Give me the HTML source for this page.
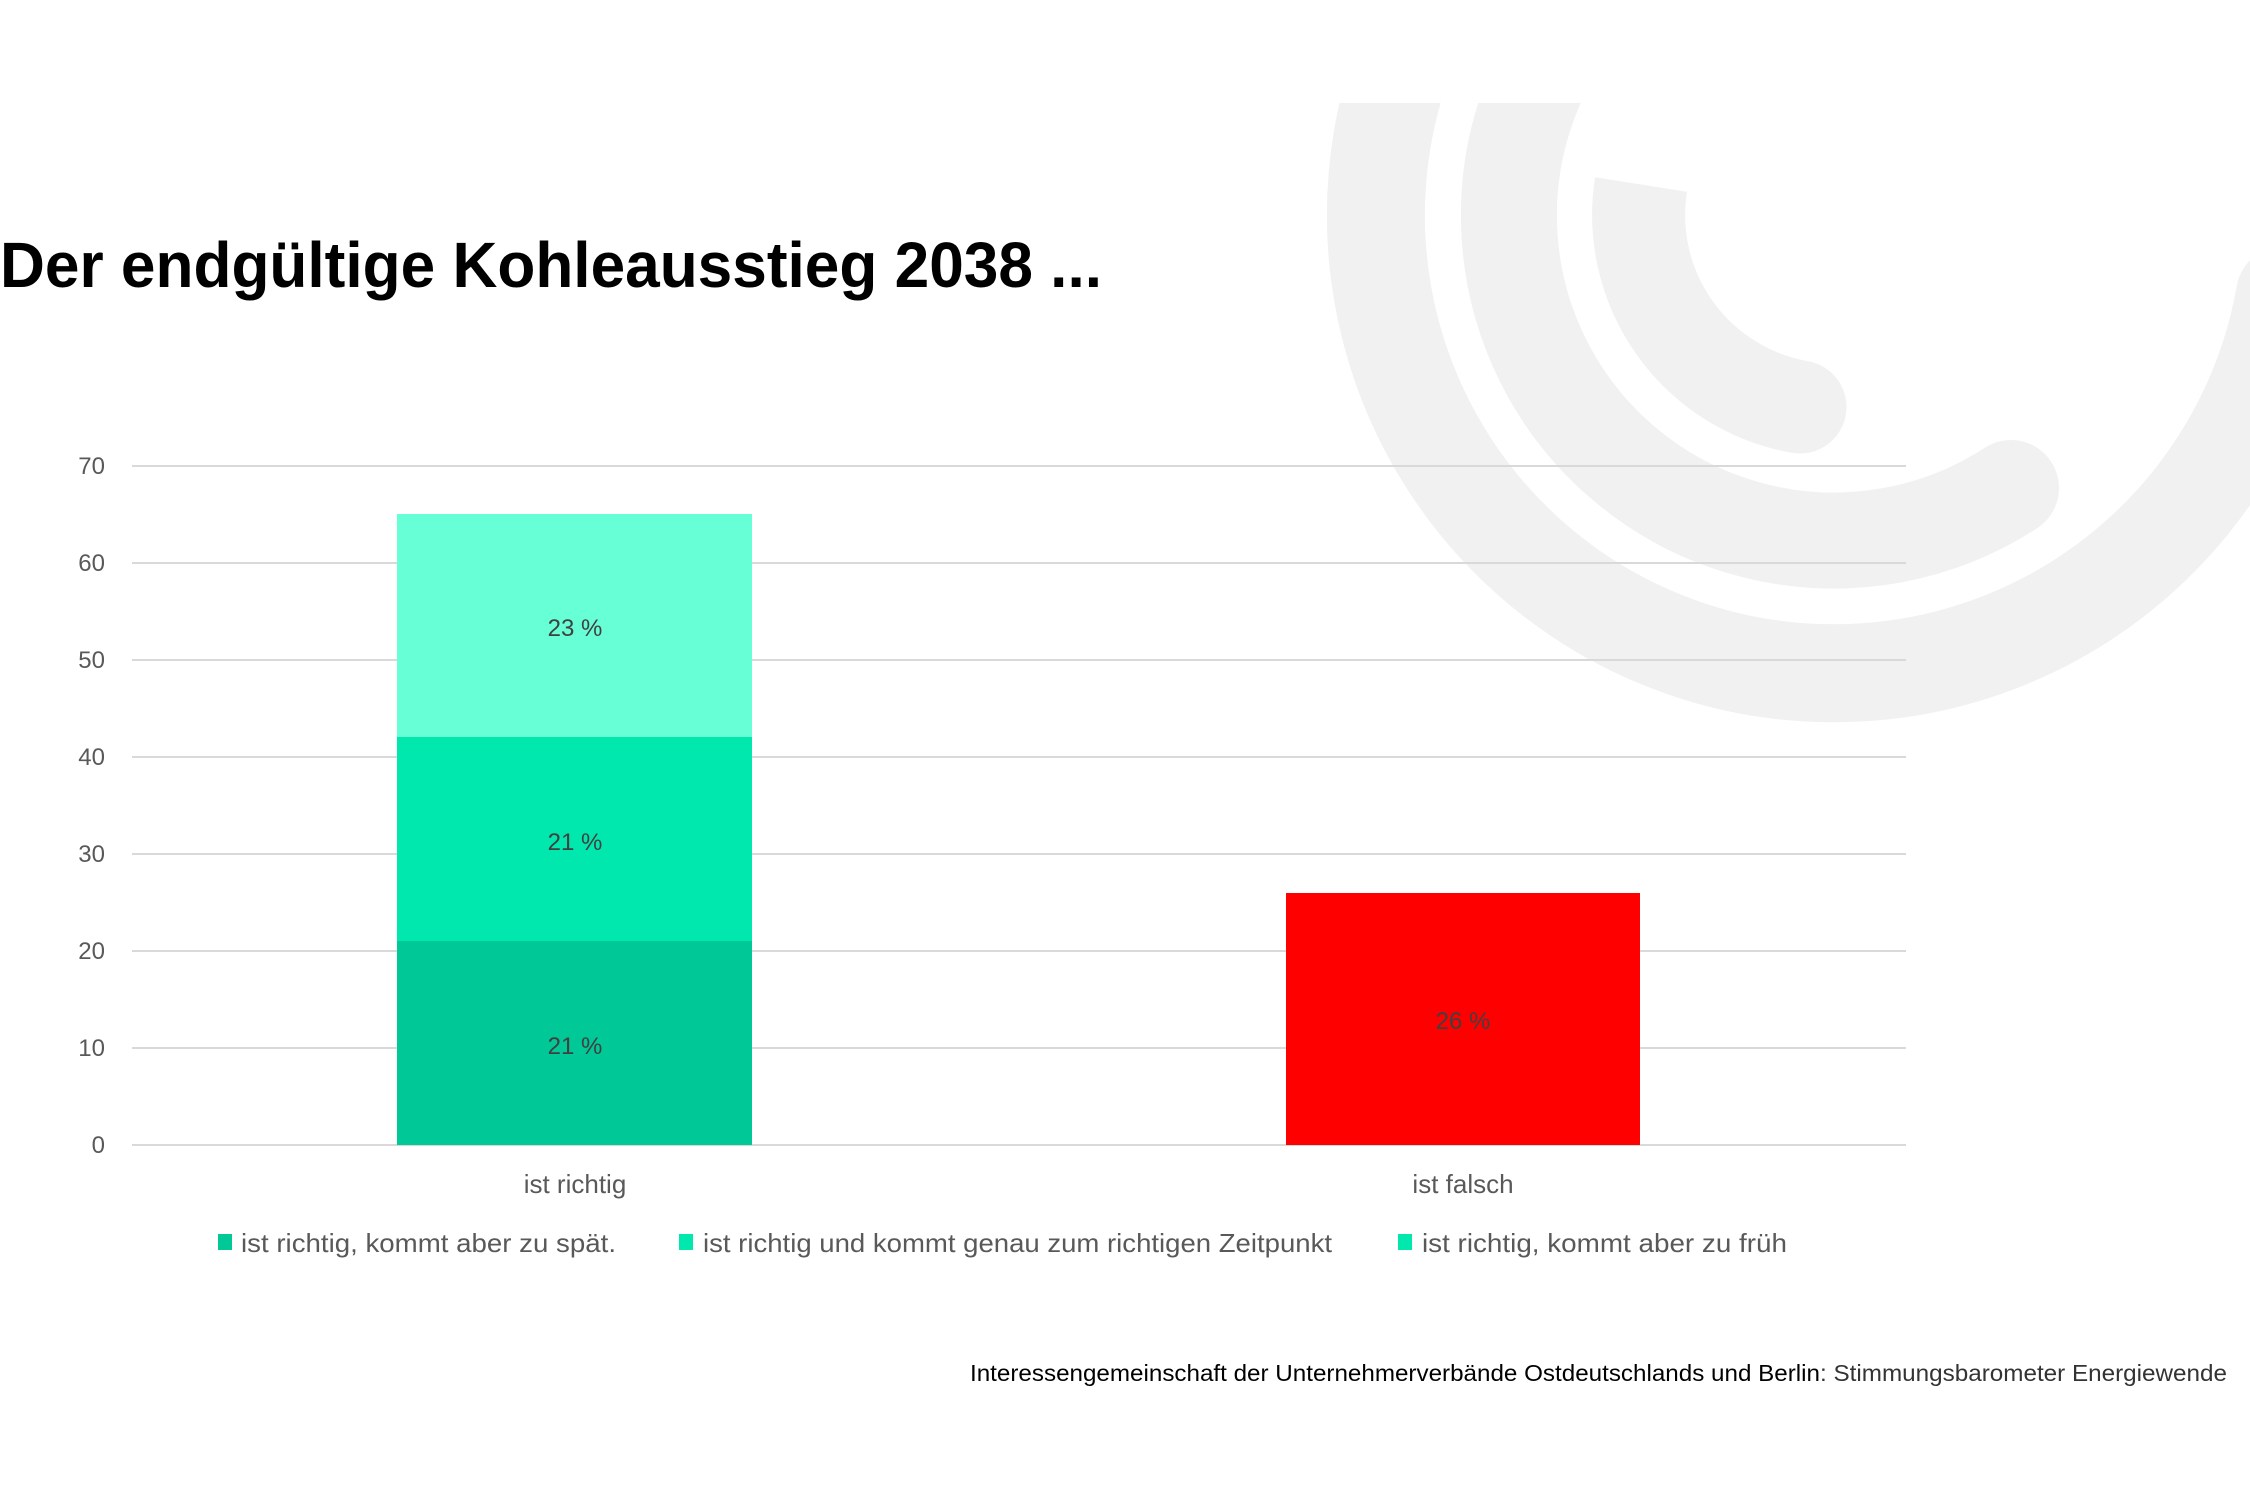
<!DOCTYPE html>
<html><head><meta charset="utf-8"><style>
html,body{margin:0;padding:0;background:#fff;}
svg{display:block;}
text{font-family:"Liberation Sans",sans-serif;}
</style></head><body>
<svg width="2250" height="1500" viewBox="0 0 2250 1500" xmlns="http://www.w3.org/2000/svg">
<defs><clipPath id="c"><rect x="0" y="103" width="2250" height="1400"/></clipPath></defs>
<g clip-path="url(#c)" fill="none" stroke="#f1f1f1">
<path d="M1677,-215 A458,458 0 1 0 2285,294.5" stroke-width="98" stroke-linecap="round"/>
<path d="M1723,-90 A325,325 0 1 0 2011,488" stroke-width="96" stroke-linecap="round"/>
<path d="M1641,184.5 A195,195 0 0 0 1800,407" stroke-width="93"/>
<circle cx="1800" cy="407" r="46.5" fill="#f1f1f1" stroke="none"/>
</g>
<text x="0" y="287" font-size="64" font-weight="bold" fill="#000" textLength="1102" lengthAdjust="spacingAndGlyphs">Der endgültige Kohleausstieg 2038 ...</text>
<g stroke="#d9d9d9" stroke-width="2">
<line x1="132" y1="466" x2="1906" y2="466"/>
<line x1="132" y1="563" x2="1906" y2="563"/>
<line x1="132" y1="660" x2="1906" y2="660"/>
<line x1="132" y1="757" x2="1906" y2="757"/>
<line x1="132" y1="854" x2="1906" y2="854"/>
<line x1="132" y1="951" x2="1906" y2="951"/>
<line x1="132" y1="1048" x2="1906" y2="1048"/>
<line x1="132" y1="1145" x2="1906" y2="1145"/>
</g>
<g font-size="24" fill="#595959" text-anchor="end">
<text x="105" y="474">70</text><text x="105" y="571">60</text><text x="105" y="668">50</text>
<text x="105" y="765">40</text><text x="105" y="862">30</text><text x="105" y="959">20</text>
<text x="105" y="1056">10</text><text x="105" y="1153">0</text>
</g>
<rect x="397" y="941" width="355" height="204" fill="#00C896"/>
<rect x="397" y="737" width="355" height="204" fill="#00E8AE"/>
<rect x="397" y="514" width="355" height="223" fill="#66FFD6"/>
<rect x="1286" y="893" width="354" height="252" fill="#FF0000"/>
<g font-size="24" fill="#404040" text-anchor="middle">
<text x="575" y="636">23 %</text>
<text x="575" y="850">21 %</text>
<text x="575" y="1054">21 %</text>
<text x="1463" y="1029">26 %</text>
</g>
<g font-size="26" fill="#595959" text-anchor="middle">
<text x="575" y="1193">ist richtig</text>
<text x="1463" y="1193">ist falsch</text>
</g>
<rect x="218" y="1234" width="14" height="16" fill="#00C896"/>
<rect x="679" y="1234" width="14" height="16" fill="#00E8AE"/>
<rect x="1398" y="1234" width="14" height="16" fill="#00E8AE"/>
<g font-size="26" fill="#595959">
<text x="241" y="1252" textLength="375" lengthAdjust="spacingAndGlyphs">ist richtig, kommt aber zu spät.</text>
<text x="703" y="1252" textLength="629" lengthAdjust="spacingAndGlyphs">ist richtig und kommt genau zum richtigen Zeitpunkt</text>
<text x="1422" y="1252" textLength="365" lengthAdjust="spacingAndGlyphs">ist richtig, kommt aber zu früh</text>
</g>
<text x="970" y="1381" font-size="23" fill="#000" textLength="850" lengthAdjust="spacingAndGlyphs">Interessengemeinschaft der Unternehmerverbände Ostdeutschlands und Berlin</text>
<text x="1820" y="1381" font-size="23" fill="#333" textLength="407" lengthAdjust="spacingAndGlyphs">: Stimmungsbarometer Energiewende</text>
</svg>
</body></html>
